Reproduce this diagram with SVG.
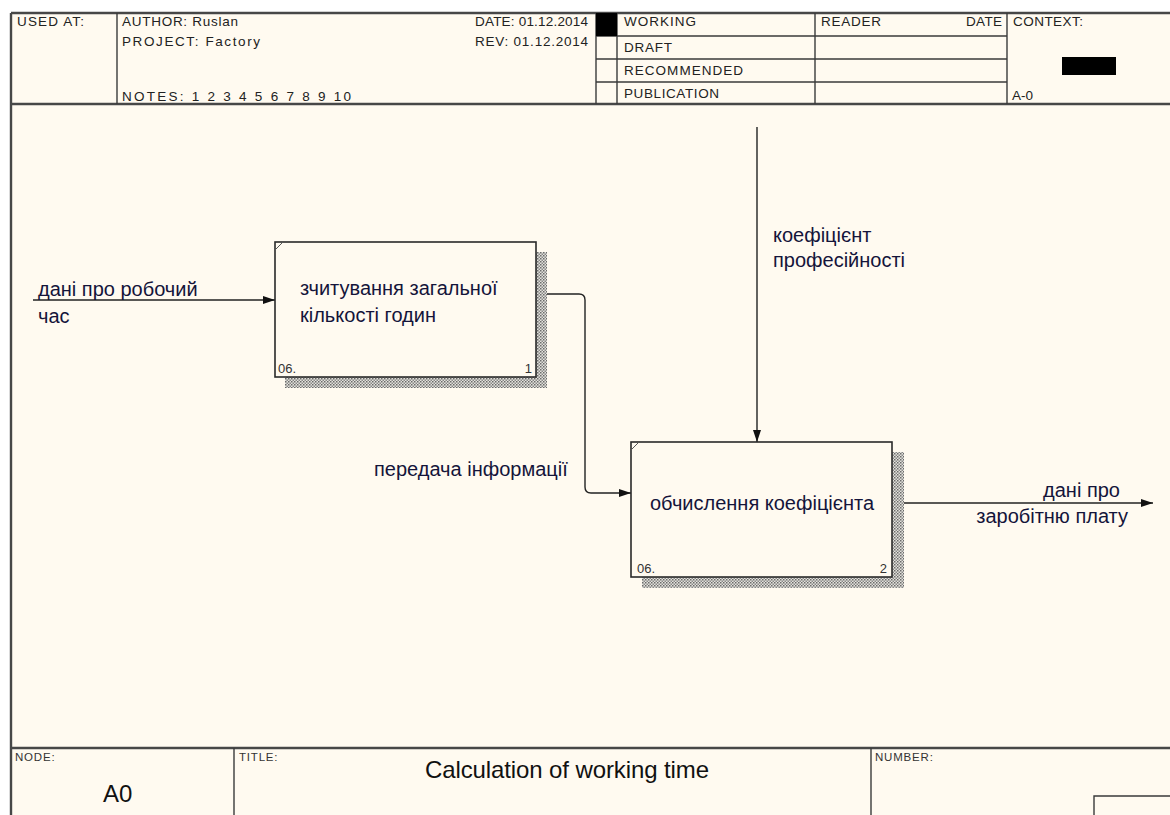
<svg xmlns="http://www.w3.org/2000/svg" width="1170" height="815" viewBox="0 0 1170 815">
  <defs>
    <pattern id="hatch" width="3" height="3" patternUnits="userSpaceOnUse">
      <rect width="3" height="3" fill="#e4e2dc"/>
      <rect x="0" y="0" width="1.5" height="1.5" fill="#6a6a6a"/>
      <rect x="1.5" y="1.5" width="1.5" height="1.5" fill="#888"/>
    </pattern>
    <marker id="arrow" viewBox="0 0 12 10" refX="12" refY="5" markerWidth="12" markerHeight="10" markerUnits="userSpaceOnUse" orient="auto">
      <path d="M0,1 L12,5 L0,9 Z" fill="#111"/>
    </marker>
    <style>
      .frame { fill: none; stroke: #474747; stroke-width: 2.4; }
      .grid { stroke: #3a3a3a; stroke-width: 1.4; fill: none; }
      .hdr { font-family: "Liberation Sans", Arial, sans-serif; font-size: 13.5px; fill: #222; }
      .small { font-family: "Liberation Sans", Arial, sans-serif; font-size: 11.5px; fill: #333; letter-spacing: 0.8px; }
      .label { font-family: "Liberation Sans", Arial, sans-serif; font-size: 20px; fill: #14143a; }
      .box { fill: #fffaf0; stroke: #2a2a2a; stroke-width: 1.6; }
      .boxnum { font-family: "Liberation Sans", Arial, sans-serif; font-size: 13px; fill: #333; }
      .conn { fill: none; stroke: #222; stroke-width: 1.4; }
    </style>
  </defs>

  <!-- page -->
  <rect width="1170" height="815" fill="#ffffff"/>
  <rect x="11" y="13" width="1170" height="810" fill="#fffaf0"/>

  <!-- header block -->
  <g id="header">
    <path class="frame" d="M11,13 H1172 M11,13 V815 M11,104 H1172"/>
    <line class="grid" x1="117" y1="13" x2="117" y2="104"/>
    <line class="grid" x1="596" y1="13" x2="596" y2="104"/>
    <line class="grid" x1="617" y1="13" x2="617" y2="104"/>
    <line class="grid" x1="815" y1="13" x2="815" y2="104"/>
    <line class="grid" x1="1007" y1="13" x2="1007" y2="104"/>
    <line class="grid" x1="596" y1="36" x2="1007" y2="36"/>
    <line class="grid" x1="596" y1="59" x2="1007" y2="59"/>
    <line class="grid" x1="596" y1="82" x2="1007" y2="82"/>
    <rect x="596" y="13" width="21" height="23" fill="#000"/>
    <rect x="1062" y="57" width="54" height="18" fill="#000"/>

    <text class="hdr" x="17" y="26" textLength="67">USED AT:</text>
    <text class="hdr" x="122" y="26" textLength="116">AUTHOR:  Ruslan</text>
    <text class="hdr" x="122" y="46" textLength="138">PROJECT:    Factory</text>
    <text class="hdr" x="122" y="101" textLength="229">NOTES:  1  2  3  4  5  6  7  8  9  10</text>
    <text class="hdr" x="475" y="26" textLength="113">DATE: 01.12.2014</text>
    <text class="hdr" x="475" y="46" textLength="113">REV:   01.12.2014</text>
    <text class="hdr" x="624" y="26" textLength="72">WORKING</text>
    <text class="hdr" x="624" y="52" textLength="48">DRAFT</text>
    <text class="hdr" x="624" y="75" textLength="119">RECOMMENDED</text>
    <text class="hdr" x="624" y="98" textLength="95">PUBLICATION</text>
    <text class="hdr" x="821" y="26" textLength="60">READER</text>
    <text class="hdr" x="966" y="26" textLength="36">DATE</text>
    <text class="hdr" x="1013" y="26" textLength="70">CONTEXT:</text>
    <text class="hdr" x="1012" y="100" font-size="12" textLength="21">A-0</text>
  </g>

  <!-- footer block -->
  <g id="footer">
    <line class="frame" x1="11" y1="748" x2="1172" y2="748"/>
    <line class="grid" x1="234" y1="748" x2="234" y2="815"/>
    <line class="grid" x1="871" y1="748" x2="871" y2="815"/>
    <path class="grid" d="M1094,815 V796 H1172"/>
    <text class="small" x="15" y="761">NODE:</text>
    <text x="103" y="802" font-family="'Liberation Sans', Arial, sans-serif" font-size="24" fill="#111">A0</text>
    <text class="small" x="239" y="761">TITLE:</text>
    <text x="425" y="778" font-family="'Liberation Sans', Arial, sans-serif" font-size="24" fill="#111" textLength="284">Calculation of working time</text>
    <text class="small" x="875" y="761">NUMBER:</text>
  </g>

  <!-- connectors -->
  <g id="connectors">
    <line class="conn" x1="33" y1="300" x2="275" y2="300" marker-end="url(#arrow)"/>
    <path class="conn" d="M536,294 H579 Q585,294 585,300 V487 Q585,493 591,493 H631" marker-end="url(#arrow)"/>
    <line class="conn" x1="757" y1="127" x2="757" y2="442" marker-end="url(#arrow)"/>
    <line class="conn" x1="892" y1="503" x2="1153" y2="503" marker-end="url(#arrow)"/>

    <text class="label" x="38" y="296">дані про робочий</text>
    <text class="label" x="38" y="323">час</text>
    <text class="label" x="374" y="476">передача інформації</text>
    <text class="label" x="773" y="242">коефіцієнт</text>
    <text class="label" x="773" y="267">професійності</text>
    <text class="label" x="1120" y="497" text-anchor="end">дані про</text>
    <text class="label" x="1128" y="523" text-anchor="end">заробітню плату</text>
  </g>

  <!-- activity 1 -->
  <g id="node-1">
    <path d="M536,252 H547 V388 H285 V377 H536 Z" fill="url(#hatch)"/>
    <rect class="box" x="275" y="242" width="261" height="135"/>
    <path d="M275,250 L283,242" stroke="#555" stroke-width="1" fill="none"/>
    <text class="label" x="300" y="295">зчитування загальної</text>
    <text class="label" x="300" y="322">кількості годин</text>
    <text class="boxnum" x="278" y="373">06.</text>
    <text class="boxnum" x="532" y="373" text-anchor="end">1</text>
  </g>

  <!-- activity 2 -->
  <g id="node-2">
    <path d="M892,452 H904 V588 H642 V577 H892 Z" fill="url(#hatch)"/>
    <rect class="box" x="631" y="442" width="261" height="135"/>
    <path d="M631,450 L639,442" stroke="#555" stroke-width="1" fill="none"/>
    <text class="label" x="650" y="510">обчислення коефіцієнта</text>
    <text class="boxnum" x="637" y="573">06.</text>
    <text class="boxnum" x="887" y="573" text-anchor="end">2</text>
  </g>
</svg>
